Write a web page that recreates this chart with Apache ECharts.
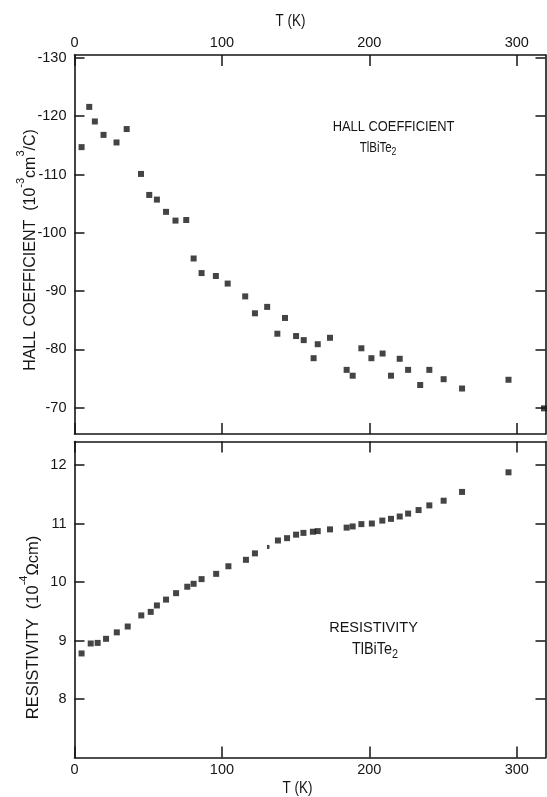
<!DOCTYPE html>
<html>
<head>
<meta charset="utf-8">
<script src="https://cdn.jsdelivr.net/npm/echarts@6/dist/echarts.min.js"></script>
<style>
html,body{margin:0;padding:0;background:#fff;}
#chart{width:547px;height:797px;}
</style>
</head>
<body>
<div id="chart"></div>
<script>
// ---- data ----
var hallT = [4.8, 10.0, 13.8, 19.7, 28.5, 35.4, 45.1, 50.7, 55.9, 62.1, 68.5, 75.8, 80.8, 86.2, 95.9, 103.9, 115.8, 122.4, 130.7, 137.6, 142.8, 150.3, 155.5, 162.2, 165.0, 173.3, 184.6, 188.7, 194.6, 201.4, 209.0, 214.7, 220.6, 226.3, 234.5, 240.7, 250.4, 262.9, 294.4, 318.5];
var hallR = [-114.7, -121.6, -119.1, -116.8, -115.5, -117.8, -110.1, -106.5, -105.7, -103.6, -102.1, -102.2, -95.6, -93.1, -92.6, -91.3, -89.1, -86.2, -87.3, -82.7, -85.4, -82.3, -81.6, -78.5, -80.9, -82.0, -76.5, -75.5, -80.2, -78.5, -79.3, -75.5, -78.4, -76.5, -73.9, -76.5, -74.9, -73.3, -74.8, -69.9];
var resT = [4.8, 11.0, 15.7, 21.4, 28.7, 36.1, 45.3, 51.7, 55.9, 62.1, 68.9, 76.5, 80.8, 86.2, 96.1, 104.4, 116.3, 122.4, 138.0, 144.2, 150.3, 155.3, 161.7, 165.0, 173.3, 184.6, 188.7, 194.6, 201.7, 208.8, 214.7, 220.6, 226.3, 233.4, 240.7, 250.4, 262.9, 294.4];
var resV = [8.78, 8.95, 8.96, 9.03, 9.14, 9.24, 9.43, 9.49, 9.60, 9.70, 9.81, 9.92, 9.97, 10.05, 10.14, 10.27, 10.38, 10.49, 10.71, 10.75, 10.81, 10.84, 10.86, 10.87, 10.90, 10.93, 10.95, 10.99, 11.00, 11.05, 11.08, 11.12, 11.17, 11.23, 11.31, 11.39, 11.54, 11.875];
var markT = [131.4];
var markV = [10.60];
var xTicks = [0, 100, 200, 300];
var hallTicks = [-130, -120, -110, -100, -90, -80, -70];
var resTicks = [8, 9, 10, 11, 12];

// ---- chart ----
var INK = '#151515';
var SANS = '"Liberation Sans", Arial, sans-serif';

function pairs(xs, ys) { return xs.map(function (x, i) { return [x, ys[i]]; }); }

function xAx(grid, pos, labels) {
  return {
    type: 'value', gridIndex: grid, position: pos, min: 0, max: 319.5,
    axisLine: { show: true, onZero: false, lineStyle: { color: INK, width: 1.6 } },
    axisTick: { show: true, inside: true, length: 11, customValues: xTicks, lineStyle: { color: INK, width: 1.5 } },
    axisLabel: { show: labels, customValues: xTicks, margin: 5, color: INK, fontSize: 14.5, fontFamily: SANS },
    splitLine: { show: false }
  };
}
function yAx(grid, pos, labels, min, max, ticks, inverse) {
  return {
    type: 'value', gridIndex: grid, position: pos, min: min, max: max, inverse: !!inverse,
    axisLine: { show: true, onZero: false, lineStyle: { color: INK, width: 1.6 } },
    axisTick: { show: true, inside: true, length: 10, customValues: ticks, lineStyle: { color: INK, width: 1.5 } },
    axisLabel: { show: labels, customValues: ticks, margin: 8, color: INK, fontSize: 14.5, fontFamily: SANS },
    splitLine: { show: false }
  };
}
function subText(x, y, size, sx) {
  return { type: 'text', x: x, y: y, scaleX: sx,
    style: { text: '{b|TlBiTe}{s|2}', fill: INK, align: 'center', verticalAlign: 'middle',
      rich: { b: { fontSize: size, fontFamily: SANS, fill: INK, lineHeight: size + 6, verticalAlign: 'middle' },
              s: { fontSize: size * 0.75, fontFamily: SANS, fill: INK, verticalAlign: 'bottom' } } } };
}

var chart = echarts.init(document.getElementById('chart'), null, { renderer: 'canvas' });
chart.setOption({
  backgroundColor: '#ffffff',
  animation: false,
  grid: [
    { left: 74.5, top: 55, width: 471, height: 379 },
    { left: 74.5, top: 441.6, width: 471, height: 316 }
  ],
  xAxis: [
    xAx(0, 'top', true),
    xAx(0, 'bottom', false),
    xAx(1, 'bottom', true),
    xAx(1, 'top', false)
  ],
  yAxis: [
    yAx(0, 'left', true, -130.5, -65.5, hallTicks, true),
    yAx(0, 'right', false, -130.5, -65.5, hallTicks, true),
    yAx(1, 'left', true, 7, 12.4, resTicks, false),
    yAx(1, 'right', false, 7, 12.4, resTicks, false)
  ],
  series: [
    { type: 'scatter', xAxisIndex: 0, yAxisIndex: 0, symbol: 'rect', symbolSize: 6, clip: true,
      itemStyle: { color: INK }, data: pairs(hallT, hallR) },
    { type: 'scatter', xAxisIndex: 2, yAxisIndex: 2, symbol: 'rect', symbolSize: 6, clip: true,
      itemStyle: { color: INK }, data: pairs(resT, resV) },
    { type: 'scatter', xAxisIndex: 2, yAxisIndex: 2, symbol: 'rect', symbolSize: [2.5, 4], clip: true,
      itemStyle: { color: INK }, data: pairs(markT, markV) }
  ],
  graphic: [
    { type: 'text', x: 290.5, y: 21.5, scaleX: 0.84,
      style: { text: 'T (K)', fill: INK, font: '16px ' + SANS, align: 'center', verticalAlign: 'middle' } },
    { type: 'text', x: 297.5, y: 789, scaleX: 0.84,
      style: { text: 'T (K)', fill: INK, font: '16px ' + SANS, align: 'center', verticalAlign: 'middle' } },
    { type: 'text', x: 393.5, y: 126.7, scaleX: 0.92,
      style: { text: 'HALL COEFFICIENT', fill: INK, font: '14px ' + SANS, align: 'center', verticalAlign: 'middle' } },
    subText(378, 148, 14, 0.82),
    { type: 'text', x: 373.5, y: 628,
      style: { text: 'RESISTIVITY', fill: INK, font: '14.5px ' + SANS, align: 'center', verticalAlign: 'middle' } },
    subText(375, 650, 16, 0.9),
    { type: 'text', x: 27, y: 250, rotation: Math.PI / 2,
      style: { text: '{b|HALL COEFFICIENT  (10}{p|-3}{b|cm}{p|3}{b|/C)}', fill: INK, align: 'center', verticalAlign: 'middle',
        rich: { b: { fontSize: 16, fontFamily: SANS, fill: INK, lineHeight: 24, verticalAlign: 'bottom' },
                p: { fontSize: 11, fontFamily: SANS, fill: INK, verticalAlign: 'top' } } } },
    { type: 'text', x: 30, y: 627.5, rotation: Math.PI / 2,
      style: { text: '{b|RESISTIVITY  (10}{p|-4}{b|Ωcm)}', fill: INK, align: 'center', verticalAlign: 'middle',
        rich: { b: { fontSize: 16.5, fontFamily: SANS, fill: INK, lineHeight: 24, verticalAlign: 'bottom' },
                p: { fontSize: 11, fontFamily: SANS, fill: INK, verticalAlign: 'top' } } } }
  ]
});
</script>
</body>
</html>
